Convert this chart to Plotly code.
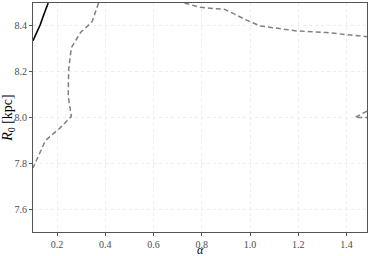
import plotly.graph_objects as go

# Solid black contour (top-left)
solid_alpha = [0.100, 0.115, 0.130, 0.145, 0.163]
solid_r0 = [8.335, 8.37, 8.405, 8.45, 8.50]

# Dashed contour (left)
dash1_alpha = [0.372, 0.359, 0.345, 0.297, 0.259, 0.248, 0.246, 0.259, 0.214, 0.152, 0.103, 0.100]
dash1_r0 = [8.50, 8.459, 8.418, 8.371, 8.305, 8.21, 8.093, 8.005, 7.956, 7.90, 7.783, 7.78]

# Dashed contour (top-right)
dash2_alpha = [0.728, 0.793, 0.896, 0.986, 1.041, 1.193, 1.317, 1.485]
dash2_r0 = [8.50, 8.481, 8.472, 8.425, 8.40, 8.378, 8.371, 8.353]

# Dashed contour (small, right edge)
dash3_alpha = [1.485, 1.46, 1.435, 1.46, 1.485]
dash3_r0 = [8.028, 8.014, 8.000, 8.000, 8.000]

x_ticks = [0.2, 0.4, 0.6, 0.8, 1.0, 1.2, 1.4]
x_ticktext = ["0.2", "0.4", "0.6", "0.8", "1.0", "1.2", "1.4"]
y_ticks = [7.6, 7.8, 8.0, 8.2, 8.4]
y_ticktext = ["7.6", "7.8", "8.0", "8.2", "8.4"]

dash_color = "#808080"
fig = go.Figure()
for xa, ya in [(dash1_alpha, dash1_r0), (dash2_alpha, dash2_r0), (dash3_alpha, dash3_r0)]:
    fig.add_trace(go.Scatter(x=xa, y=ya, mode="lines",
                             line=dict(color=dash_color, width=1.5, dash="5px,3px"),
                             showlegend=False, hoverinfo="skip"))
fig.add_trace(go.Scatter(x=solid_alpha, y=solid_r0, mode="lines",
                         line=dict(color="black", width=1.6),
                         showlegend=False, hoverinfo="skip"))

font_family = "Liberation Serif"
axis_common = dict(
    showline=True, mirror=True, linecolor="#555555", linewidth=1,
    ticks="outside", ticklen=3, tickcolor="#555555", tickwidth=1,
    showgrid=True, gridcolor="#ececec", gridwidth=1, griddash="dot",
    zeroline=False, automargin=False,
    tickfont=dict(family=font_family, size=10, color="#4d4d4d"),
)
fig.update_layout(
    width=374, height=256,
    margin=dict(l=33, r=7, t=3, b=24),
    paper_bgcolor="white", plot_bgcolor="white",
    font=dict(family=font_family),
    xaxis=dict(range=[0.1, 1.485], tickvals=x_ticks, ticktext=x_ticktext,
               **axis_common),
    yaxis=dict(range=[7.5, 8.5], tickvals=y_ticks, ticktext=y_ticktext,
               title=dict(text="<i>R</i><sub>0</sub> [kpc]", font=dict(family=font_family, size=14, color="black"), standoff=3),
               **axis_common),
    annotations=[dict(text="<i>α</i>", xref="paper", yref="paper", x=0.5, y=-0.08,
                      xanchor="center", yanchor="middle", showarrow=False, borderpad=0,
                      font=dict(family=font_family, size=12, color="black"))],
)
fig.write_html("out.html", config={"displayModeBar": False},
               post_script="document.body.style.margin='0';document.body.style.overflow='hidden';")
